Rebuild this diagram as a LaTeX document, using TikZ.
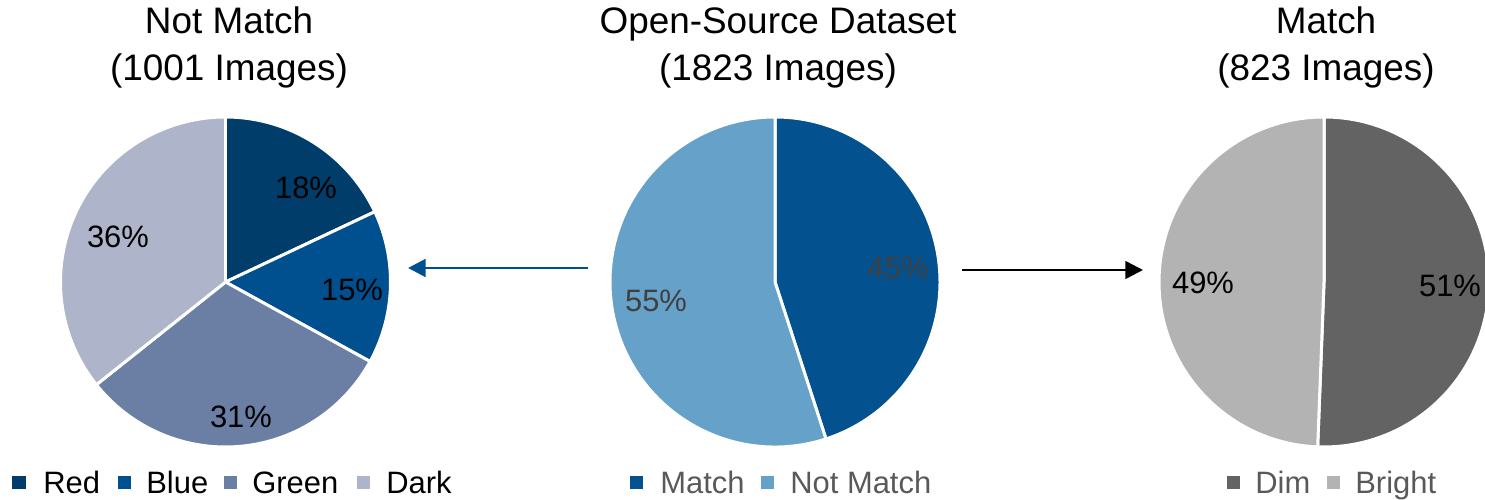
\documentclass[tikz,border=0pt]{standalone}
\usepackage{fontspec}
\setmainfont{Liberation Sans}
\usetikzlibrary{arrows.meta}

\definecolor{cRed}{HTML}{003D6B}
\definecolor{cBlue}{HTML}{00508F}
\definecolor{cGreen}{HTML}{6B7FA5}
\definecolor{cDark}{HTML}{AEB4C9}
\definecolor{cMatch}{HTML}{03518F}
\definecolor{cNotMatch}{HTML}{65A1C9}
\definecolor{cDim}{HTML}{636363}
\definecolor{cBright}{HTML}{B3B3B3}
\definecolor{lblgray}{HTML}{404040}
\definecolor{leggray}{HTML}{595959}

\begin{document}
\begin{tikzpicture}[x=0.02cm,y=0.02cm]
        \tikzstyle{slice}=[draw=white,line width=1.7pt]
        \tikzstyle{title}=[anchor=base,inner sep=0pt,font=\fontsize{21}{25}\selectfont]
        \tikzstyle{pct}=[inner sep=0pt,font=\fontsize{17.6}{21}\selectfont]
        \tikzstyle{key}=[inner sep=0pt,minimum size=7.4pt]
        \tikzstyle{legend}=[anchor=base west,inner sep=0pt,font=\fontsize{17.6}{21}\selectfont]
        \useasboundingbox (0,0) rectangle (1485,500);

        % left pie: not match
        \coordinate (lc) at (225.5,218);
        \fill[cRed,slice]   (lc) -- ++(90:165) arc (90:25.2:165) -- cycle;
        \fill[cBlue,slice]  (lc) -- ++(25.2:165) arc (25.2:-28.8:165) -- cycle;
        \fill[cGreen,slice] (lc) -- ++(-28.8:165) arc (-28.8:-141.5:165) -- cycle;
        \fill[cDark,slice]  (lc) -- ++(-141.5:165) arc (-141.5:-270:165) -- cycle;
        \node [pct] (p18) at (306,312) {18\%};
        \node [pct] (p15) at (352,210) {15\%};
        \node [pct] (p31) at (241,83) {31\%};
        \node [pct] (p36) at (118,263) {36\%};
        \node [title] (lt1) at (229,466) {Not Match};
        \node [title] (lt2) at (229,419) {(1001 Images)};

        % middle pie: dataset
        \coordinate (mc) at (775,218);
        \fill[cMatch,slice]    (mc) -- ++(90:165) arc (90:-72:165) -- cycle;
        \fill[cNotMatch,slice] (mc) -- ++(-72:165) arc (-72:-270:165) -- cycle;
        \node [pct,text=lblgray] (p45) at (898,232) {45\%};
        \node [pct,text=lblgray] (p55) at (656,199) {55\%};
        \node [title] (mt1) at (778,466) {Open-Source Dataset};
        \node [title] (mt2) at (778,419) {(1823 Images)};

        % right pie: match
        \coordinate (rc) at (1324,218);
        \fill[cDim,slice]    (rc) -- ++(90:165) arc (90:-92.2:165) -- cycle;
        \fill[cBright,slice] (rc) -- ++(-92.2:165) arc (-92.2:-270:165) -- cycle;
        \node [pct] (p49) at (1203,217) {49\%};
        \node [pct] (p51) at (1450,214) {51\%};
        \node [title] (rt1) at (1326,466) {Match};
        \node [title] (rt2) at (1326,419) {(823 Images)};

        % arrows
        \coordinate (la1) at (588,232);
        \coordinate (la2) at (408,232);
        \coordinate (ra1) at (962,230);
        \coordinate (ra2) at (1143,230);
        \draw[cBlue,line width=1.7pt,-{Triangle[length=10pt,width=10pt]}] (la1) -- (la2);
        \draw[black,line width=1.4pt,-{Triangle[length=10pt,width=10pt]}] (ra1) -- (ra2);

        % legends
        \node [key,fill=cRed]   (k1) at (19,17) {};
        \node [legend] (l1) at (43,6) {Red};
        \node [key,fill=cBlue]  (k2) at (124,17) {};
        \node [legend] (l2) at (146,6) {Blue};
        \node [key,fill=cGreen] (k3) at (230,17) {};
        \node [legend] (l3) at (252,6) {Green};
        \node [key,fill=cDark]  (k4) at (363,17) {};
        \node [legend] (l4) at (386,6) {Dark};

        \node [key,fill=cMatch]    (k5) at (636,17) {};
        \node [legend,text=leggray] (l5) at (660,6) {Match};
        \node [key,fill=cNotMatch] (k6) at (767,17) {};
        \node [legend,text=leggray] (l6) at (790,6) {Not Match};

        \node [key,fill=cDim]    (k7) at (1233,17) {};
        \node [legend,text=leggray] (l7) at (1255,6) {Dim};
        \node [key,fill=cBright] (k8) at (1333,17) {};
        \node [legend,text=leggray] (l8) at (1355,6) {Bright};
\end{tikzpicture}
\end{document}
